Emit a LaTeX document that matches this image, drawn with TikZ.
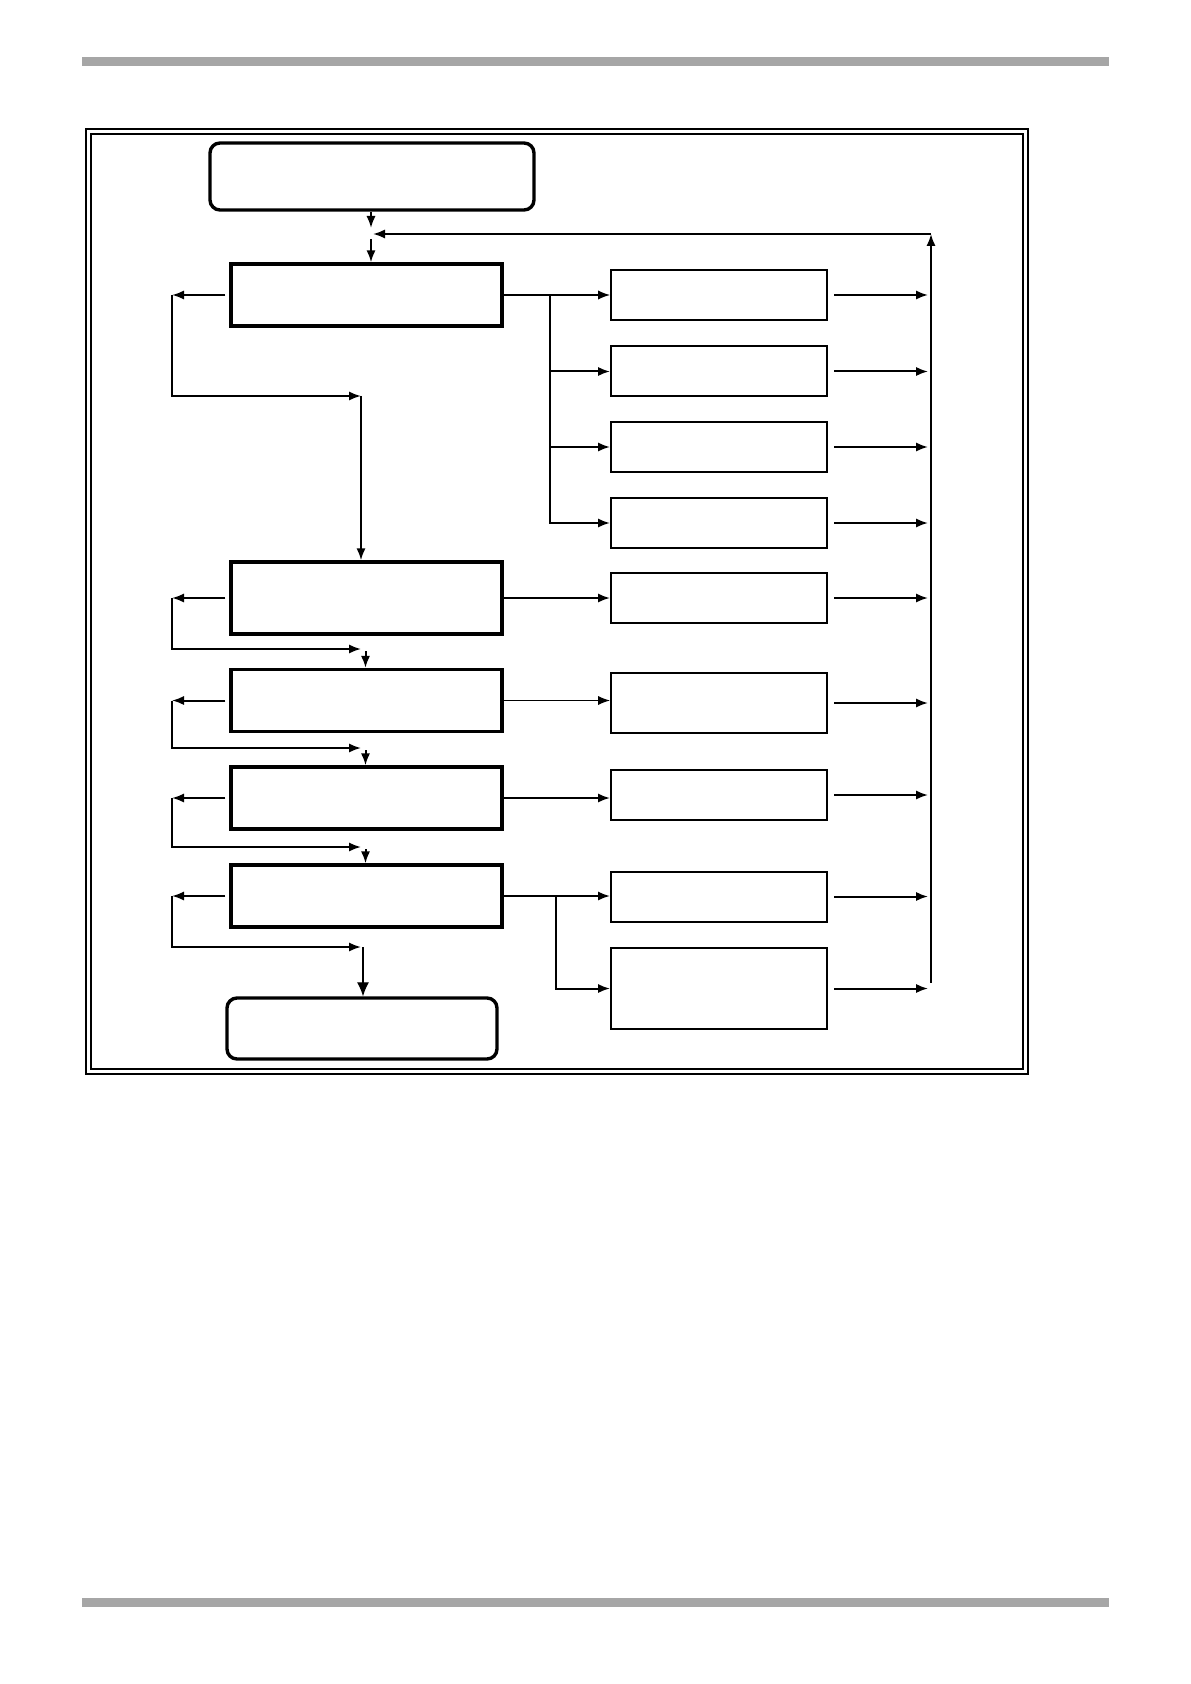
\documentclass[tikz,border=0pt]{standalone}
\usetikzlibrary{arrows.meta}

\tikzset{
    mainbox/.style={draw, line width=1.7pt, minimum width=135.5pt, minimum height=31pt, inner sep=0pt},
    sidebox/.style={draw, line width=1pt, minimum width=108pt, minimum height=25pt, inner sep=0pt},
    endbox/.style={draw, line width=1.7pt, rounded corners=5pt, inner sep=0pt},
    flow/.style={line width=1pt, -{Latex[length=6pt,width=4.6pt]}},
    thinflow/.style={flow, line width=0.6pt},
}

\begin{document}
\begin{tikzpicture}[x=0.5pt, y=-0.5pt]
    \useasboundingbox (0,0) rectangle (1190,1684);

    % page rules
    \fill[black!35] (82,57) rectangle (1109,66);
    \fill[black!35] (82,1598) rectangle (1109,1607);

    % double frame
    \draw[line width=1.3pt] (86,129) rectangle (1028,1074);
    \draw[line width=0.6pt] (91,134) rectangle (1023,1069);

    % left column
    \node[endbox, minimum width=162pt, minimum height=33.5pt] (start) at (372,176.5) {};
    \node[mainbox] (stepA) at (366.5,295) {};
    \node[mainbox, minimum height=36pt] (stepB) at (366.5,598) {};
    \node[mainbox] (stepC) at (366.5,700.5) {};
    \node[mainbox] (stepD) at (366.5,798) {};
    \node[mainbox] (stepE) at (366.5,896) {};
    \node[endbox, minimum width=135pt, minimum height=30.5pt] (finish) at (362,1028.5) {};

    % right column
    \node[sidebox] (side1) at (719,295) {};
    \node[sidebox] (side2) at (719,371.5) {};
    \node[sidebox] (side3) at (719,447) {};
    \node[sidebox] (side4) at (719,523) {};
    \node[sidebox] (side5) at (719,598) {};
    \node[sidebox, minimum height=30pt] (side6) at (719,703) {};
    \node[sidebox] (side7) at (719,795) {};
    \node[sidebox] (side8) at (719,896.5) {};
    \node[sidebox, minimum height=40.5pt] (side9) at (719,988.5) {};

    \coordinate (joinT) at (371,228);
    \coordinate (joinB) at (371,239);
    \coordinate (joinR) at (373,234);
    \coordinate (busTop) at (931,234);
    \coordinate (busBot) at (931,982.5);
    \coordinate (busIn) at (928,0);
    \coordinate (leftx) at (172,0);
    \coordinate (loopA) at (361,396);
    \coordinate (loopB) at (361,649);
    \coordinate (loopC) at (361,748);
    \coordinate (loopD) at (361,847);
    \coordinate (loopE) at (361,947);
    \coordinate (forkA) at (550,295);
    \coordinate (forkE) at (556,896);

    % entry and feedback
    \draw[flow] (start.south -| joinT) -- (joinT);
    \draw[flow] (joinB) -- (joinB |- stepA.north);
    \draw[flow] (busBot) -- (busTop);
    \draw[flow] (busTop) -- (joinR);

    % left loops
    \foreach \s/\l in {stepA/loopA, stepB/loopB, stepC/loopC, stepD/loopD, stepE/loopE} {
        \draw[flow] ([xshift=-2pt]\s.west) -- (\s.west -| leftx);
        \draw[flow] (\s.west -| leftx) |- (\l);
    }
    \draw[flow] (loopA) -- (loopA |- stepB.north);
    \draw[flow] ([xshift=2.25pt,yshift=-1pt]loopB) -- ([xshift=2.25pt]loopB |- stepC.north);
    \draw[flow] ([xshift=2.25pt,yshift=-1pt]loopC) -- ([xshift=2.25pt]loopC |- stepD.north);
    \draw[flow] ([xshift=2.25pt,yshift=-1pt]loopD) -- ([xshift=2.25pt]loopD |- stepE.north);
    \draw[thinflow, -{Latex[length=7pt,width=6pt]}] ([xshift=1pt]loopE) -- ([xshift=1pt]loopE |- finish.north);

    % to the right column
    \draw[thinflow] (stepA.east) -- (side1.west);
    \foreach \i in {2,3,4} \draw[flow] (forkA) |- (side\i.west);
    \draw[flow] (stepB.east) -- (stepB.east -| side5.west);
    \draw[thinflow] (stepC.east) -- (stepC.east -| side6.west);
    \draw[flow] (stepD.east) -- (stepD.east -| side7.west);
    \draw[flow] (stepE.east) -- (stepE.east -| side8.west);
    \draw[flow] (forkE) |- (side9.west);

    % back to the bus
    \foreach \i in {1,...,9} \draw[flow] ([xshift=3pt]side\i.east) -- (side\i.east -| busIn);
\end{tikzpicture}
\end{document}
